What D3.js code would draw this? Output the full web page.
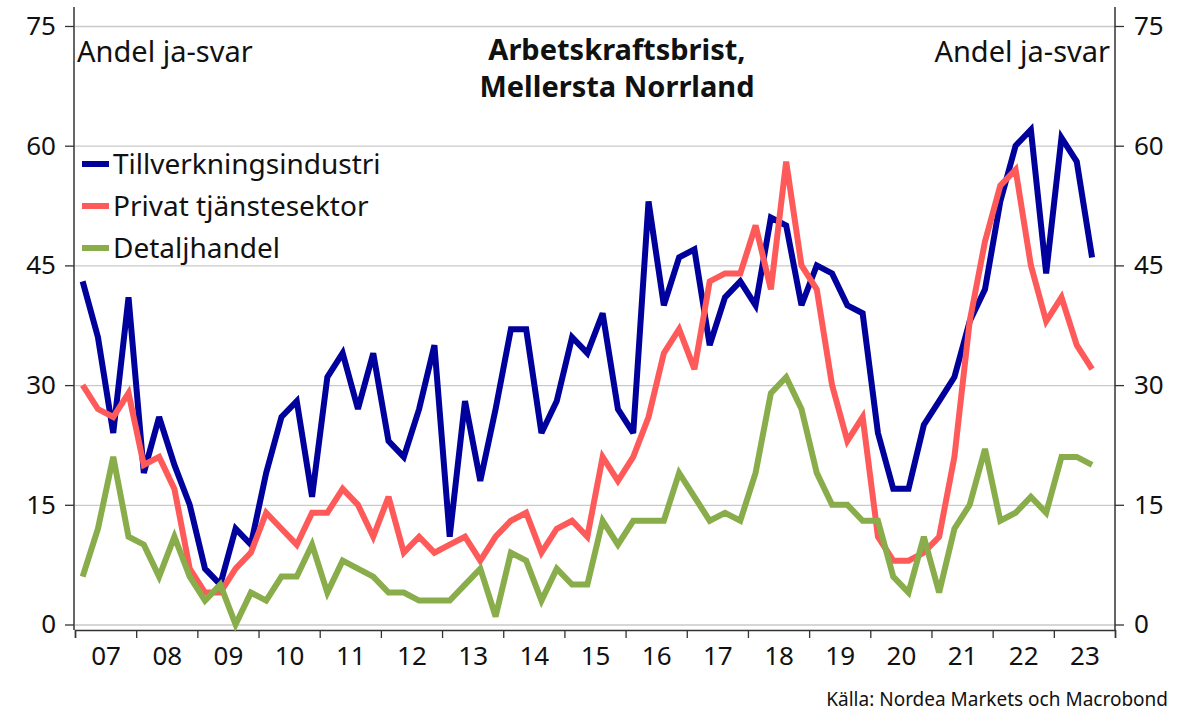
<!DOCTYPE html>
<html>
<head>
<meta charset="utf-8">
<script src="https://d3js.org/d3.v7.min.js"></script>
<style>
  body { margin: 0; background: #fff; }
  svg { display: block; }
  text { font-family: "Noto Sans", sans-serif; fill: #111; }
</style>
</head>
<body>
<svg id="chart" width="1191" height="714"></svg>
<script>
// quarterly survey, 2007Q1 .. 2023Q3
var startYear = 2007;
var yearLabels = ["07", "08", "09", "10", "11", "12", "13", "14", "15", "16", "17", "18", "19", "20", "21", "22", "23"];
var yTicks = [0, 15, 30, 45, 60, 75];

var tillverkning = [43, 36, 24, 41, 19, 26, 20, 15, 7, 5, 12, 10, 19, 26, 28, 16,
    31, 34, 27, 34, 23, 21, 27, 35, 11, 28, 18, 27, 37, 37, 24, 28,
    36, 34, 39, 27, 24, 53, 40, 46, 47, 35, 41, 43, 40, 51, 50, 40,
    45, 44, 40, 39, 24, 17, 17, 25, 28, 31, 38, 42, 53, 60, 62, 44,
    61, 58, 46];
var tjanster = [30, 27, 26, 29, 20, 21, 17, 7, 4, 4, 7, 9, 14, 12, 10, 14,
    14, 17, 15, 11, 16, 9, 11, 9, 10, 11, 8, 11, 13, 14, 9, 12,
    13, 11, 21, 18, 21, 26, 34, 37, 32, 43, 44, 44, 50, 42, 58, 45,
    42, 30, 23, 26, 11, 8, 8, 9, 11, 21, 38, 48, 55, 57, 45, 38,
    41, 35, 32];
var detaljhandel = [6, 12, 21, 11, 10, 6, 11, 6, 3, 5, 0, 4, 3, 6, 6, 10,
    4, 8, 7, 6, 4, 4, 3, 3, 3, 5, 7, 1, 9, 8, 3, 7,
    5, 5, 13, 10, 13, 13, 13, 19, 16, 13, 14, 13, 19, 29, 31, 27,
    19, 15, 15, 13, 13, 6, 4, 11, 4, 12, 15, 22, 13, 14, 16, 14,
    21, 21, 20];

var seriesNames = ["Tillverkningsindustri", "Privat tjänstesektor", "Detaljhandel"];
var seriesColors = ["#00009c", "#ff5a5a", "#89ad4b"];
var seriesValues = [tillverkning, tjanster, detaljhandel];

(function () {
    var svg = d3.select("#chart");
    var plotLeft = 75, plotRight = 1115, plotTop = 26, plotBottom = 624.5;
    var numSize = 26;

    var x = d3.scaleLinear().domain([startYear, startYear + yearLabels.length]).range([plotLeft, plotRight]);
    var y = d3.scaleLinear().domain([0, 75]).range([plotBottom, plotTop]);

    // quarter -> middle of the quarter
    function qTime(i) {
        return startYear + Math.floor(i / 4) + ((i % 4) + 0.5) / 4;
    }

    // gridlines
    svg.append("g")
        .attr("transform", "translate(" + plotLeft + ",0)")
        .call(d3.axisRight(y).tickValues(yTicks).tickSize(plotRight - plotLeft).tickFormat(""))
        .call(function (g) {
            g.select(".domain").remove();
            g.selectAll("line").attr("stroke", "#c9c9c9").attr("stroke-width", 1.3);
        });

    function styleY(g) {
        g.select(".domain").remove();
        g.selectAll("line").attr("stroke", "#333").attr("stroke-width", 1.3);
        g.selectAll("text").attr("font-size", numSize).attr("fill", "#111")
            .style("font-family", "'Noto Sans', sans-serif");
    }

    svg.append("g")
        .attr("transform", "translate(" + (plotLeft - 1) + ",0)")
        .call(d3.axisLeft(y).tickValues(yTicks).tickSize(9).tickPadding(9))
        .call(styleY);

    svg.append("g")
        .attr("transform", "translate(" + plotRight + ",0)")
        .call(d3.axisRight(y).tickValues(yTicks).tickSize(9).tickPadding(10))
        .call(styleY);

    svg.append("line").attr("x1", plotLeft - 1).attr("x2", plotLeft - 1).attr("y1", 7).attr("y2", 630)
        .attr("stroke", "#333").attr("stroke-width", 1.5);
    svg.append("line").attr("x1", plotRight).attr("x2", plotRight).attr("y1", 7).attr("y2", 630)
        .attr("stroke", "#333").attr("stroke-width", 1.5);

    // x axis: ticks at year boundaries, labels mid-year
    var yearStarts = d3.range(startYear, startYear + yearLabels.length + 1);
    svg.append("g")
        .attr("transform", "translate(0,630)")
        .call(d3.axisBottom(x).tickValues(yearStarts).tickSize(8).tickFormat(""))
        .call(function (g) {
            g.select(".domain").attr("stroke", "#333").attr("stroke-width", 1.5);
            g.selectAll("line").attr("stroke", "#333").attr("stroke-width", 1.3);
        });

    svg.append("g")
        .attr("transform", "translate(0,630)")
        .call(d3.axisBottom(x).tickValues(yearStarts.slice(0, -1).map(function (d) { return d + 0.5; }))
            .tickSize(0).tickPadding(17)
            .tickFormat(function (d, i) { return yearLabels[i]; }))
        .call(function (g) {
            g.select(".domain").remove();
            g.selectAll("text").attr("font-size", numSize).attr("fill", "#111")
                .style("font-family", "'Noto Sans', sans-serif");
        });

    // series
    var line = d3.line()
        .x(function (d, i) { return x(qTime(i)); })
        .y(function (d) { return y(d); });

    svg.append("g").selectAll("path")
        .data(seriesValues)
        .enter()
        .append("path")
        .attr("d", line)
        .attr("fill", "none")
        .attr("stroke", function (d, i) { return seriesColors[i]; })
        .attr("stroke-width", 6)
        .attr("stroke-linejoin", "miter")
        .attr("stroke-miterlimit", 3);

    // legend
    var legend = svg.append("g");
    seriesNames.forEach(function (name, i) {
        var ly = 164 + i * 42;
        legend.append("line")
            .attr("x1", 82).attr("x2", 109).attr("y1", ly).attr("y2", ly)
            .attr("stroke", seriesColors[i]).attr("stroke-width", 6);
        legend.append("text")
            .attr("x", 113).attr("y", ly + 10)
            .attr("font-size", 28)
            .text(name);
    });

    // unit labels
    svg.append("text").attr("x", 77).attr("y", 62).attr("font-size", 29).text("Andel ja-svar");
    svg.append("text").attr("x", 1110).attr("y", 62).attr("font-size", 29)
        .attr("text-anchor", "end").text("Andel ja-svar");

    // title
    svg.append("text").attr("x", 617).attr("y", 60).attr("font-size", 29)
        .attr("font-weight", "bold").attr("text-anchor", "middle").text("Arbetskraftsbrist,");
    svg.append("text").attr("x", 617).attr("y", 97).attr("font-size", 29)
        .attr("font-weight", "bold").attr("text-anchor", "middle").text("Mellersta Norrland");

    // source
    svg.append("text").attr("x", 1168).attr("y", 706).attr("font-size", 19)
        .attr("text-anchor", "end").text("Källa: Nordea Markets och Macrobond");
})();
</script>
</body>
</html>
